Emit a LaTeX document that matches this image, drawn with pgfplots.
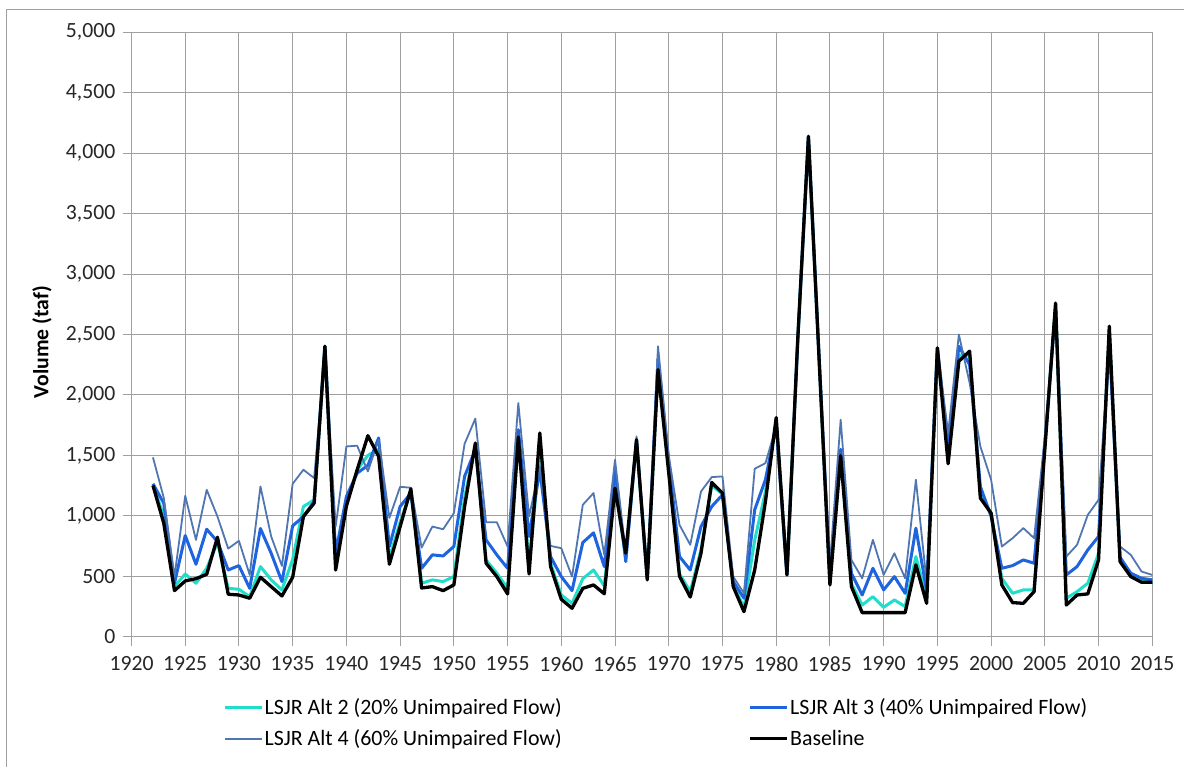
\documentclass[border=0pt]{standalone}
\usepackage{pgfplots}
\pgfplotsset{compat=1.18}
\usepackage{pgfplotstable}
\usepackage{fontspec}
\setmainfont{Carlito}
\definecolor{cAltTwo}{RGB}{32,222,202}
\definecolor{cAltThree}{RGB}{30,100,222}
\definecolor{cAltFour}{RGB}{80,118,178}
\definecolor{cGrid}{RGB}{160,160,160}

\pgfplotstableread{
year alt2 alt3 alt4 base
1922 1250 1265 1483 1251
1923 1000 1105 1150 940
1924 414 442 497 381
1925 519 837 1166 461
1926 442 599 801 480
1927 566 889 1215 516
1928 780 787 994 823
1929 400 552 729 351
1930 392 588 793 345
1931 331 400 511 318
1932 580 895 1243 492
1933 470 690 829 414
1934 387 456 586 337
1935 640 917 1265 492
1936 1077 994 1381 994
1937 1132 1119 1312 1105
1938 2400 2400 2350 2403
1939 600 690 911 552
1940 1100 1160 1574 1080
1941 1380 1353 1580 1380
1942 1500 1417 1367 1663
1943 1550 1644 1630 1491
1944 650 746 983 600
1945 950 1077 1240 911
1946 1200 1188 1232 1223
1947 442 566 737 403
1948 470 677 911 414
1949 456 668 889 381
1950 497 746 1022 428
1951 1150 1326 1596 1077
1952 1580 1547 1804 1602
1953 635 801 947 608
1954 525 677 947 497
1955 400 566 746 354
1956 1660 1712 1933 1652
1957 600 829 994 519
1958 1500 1381 1409 1685
1959 608 663 751 580
1960 345 497 732 309
1961 276 381 497 235
1962 480 779 1091 400
1963 552 859 1188 428
1964 420 580 677 355
1965 1260 1380 1464 1229
1966 650 621 690 691
1967 1620 1630 1657 1630
1968 480 480 500 470
1969 2220 2300 2403 2209
1970 1400 1450 1500 1353
1971 520 663 925 500
1972 373 552 760 328
1973 720 911 1201 690
1974 1250 1077 1320 1276
1975 1180 1174 1326 1188
1976 430 456 497 414
1977 240 318 359 207
1978 800 1050 1389 552
1979 1200 1300 1436 1119
1980 1790 1750 1740 1812
1981 511 511 520 511
1982 2450 2450 2450 2450
1983 4130 4130 4120 4140
1984 2280 2300 2300 2280
1985 440 500 600 428
1986 1500 1550 1795 1497
1987 440 525 635 414
1988 262 345 483 199
1989 331 566 801 199
1990 243 387 511 199
1991 304 497 690 199
1992 249 359 483 199
1993 663 898 1298 594
1994 320 380 450 276
1995 2390 2390 2380 2389
1996 1480 1574 1685 1431
1997 2330 2403 2500 2279
1998 2330 2250 2099 2362
1999 1180 1243 1574 1146
2000 1022 994 1298 1022
2001 483 566 746 428
2002 359 588 815 282
2003 387 635 898 276
2004 387 608 815 373
2005 1570 1600 1650 1550
2006 2740 2720 2700 2760
2007 318 511 663 262
2008 373 580 760 345
2009 442 718 1008 354
2010 690 829 1132 635
2011 2540 2450 2400 2569
2012 630 657 746 621
2013 500 525 677 497
2014 455 483 539 450
2015 455 470 511 450
}\datatable

\begin{document}
\begin{tikzpicture}
\begin{axis}[
  at={(131.5pt,130.3pt)}, anchor=south west,
  scale only axis,
  width=1020.8pt, height=604.4pt,
  xmin=1920, xmax=2015, ymin=0, ymax=5000,
  xtick={1920,1925,...,2015},
  ytick={0,500,...,5000},
  grid=major,
  major grid style={cGrid, line width=1pt},
  axis line style={cGrid, line width=1pt},
  tick style={cGrid, line width=1pt},
  major tick length=9pt,
  tick align=outside,
  tick pos=left,
  font=\fontsize{21.9}{25.5}\selectfont,
  tick label style={font=\fontsize{21.7}{25}\selectfont, text=black!85},
  /pgf/number format/assume math mode=true,
  /pgf/number format/1000 sep={,},
  x tick label style={/pgf/number format/1000 sep={}, inner sep=0pt, anchor=north, yshift=-11pt},
  y tick label style={inner sep=0pt, anchor=east, xshift=-7pt},
  ylabel={\bfseries Volume (taf)},
  ylabel style={at={(axis description cs:-0.0877,0.4876)}, anchor=center, font=\fontsize{21.7}{25}\selectfont},
  legend columns=2,
  legend cell align=left,
  legend image code/.code={\draw[#1] (0pt,0pt) -- (37pt,0pt);},
  legend style={draw=none, fill=none, font=\fontsize{21.9}{25.5}\selectfont,
    at={(axis description cs:0,0)}, anchor=north west, xshift=91.5pt, yshift=-60.5pt,
    inner sep=0pt, row sep=10.5pt,
    nodes={inner sep=1.5pt},
    /tikz/every even column/.append style={column sep=185pt}},
  line join=round,
]
\addplot[no markers, color=cAltTwo, line width=3pt] table[x=year,y=alt2]{\datatable};
\addlegendentry{LSJR Alt 2 (20\% Unimpaired Flow)}
\addplot[no markers, color=cAltThree, line width=3pt] table[x=year,y=alt3]{\datatable};
\addlegendentry{LSJR Alt 3 (40\% Unimpaired Flow)}
\addplot[no markers, color=cAltFour, line width=1.8pt] table[x=year,y=alt4]{\datatable};
\addlegendentry{LSJR Alt 4 (60\% Unimpaired Flow)}
\addplot[no markers, color=black, line width=3.3pt] table[x=year,y=base]{\datatable};
\addlegendentry{Baseline}
\end{axis}
\draw[cGrid, line width=1pt] (6pt,0pt) -- (6pt,757pt) -- (1184pt,757pt);
\pgfresetboundingbox
\useasboundingbox (0pt,0pt) rectangle (1184pt,767pt);
\end{tikzpicture}
\end{document}
